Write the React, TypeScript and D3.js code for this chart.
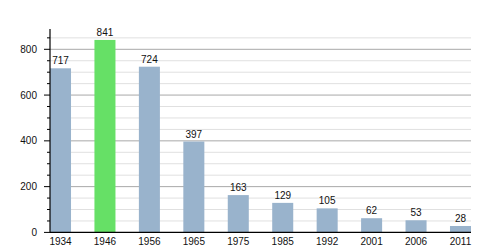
import React from "react";
import * as d3 from "d3";

const years = ["1934", "1946", "1956", "1965", "1975", "1985", "1992", "2001", "2006", "2011"];
const population = [717, 841, 724, 397, 163, 129, 105, 62, 53, 28];
const highlightYear = "1946";
const majorTicks = [0, 200, 400, 600, 800];
const minorTicks = d3.range(50, 900, 50).filter((v) => v % 200 !== 0);

export default function App() {
  const W = 500;
  const H = 250;
  const x = d3.scaleBand<string>().domain(years).range([50, 471]).paddingInner(0.527).paddingOuter(0);
  const y = d3.scaleLinear().domain([0, 800]).range([232.4, 49.3]);
  const font = "'Liberation Sans', Arial, sans-serif";
  return (
    <svg width={W} height={H} style={{ position: "absolute", left: 0, top: 0 }} fontFamily={font}>
      <rect width={W} height={H} fill="#fff" />
      {minorTicks.map((v) => (
        <line key={"mg" + v} x1={50} x2={471} y1={y(v)} y2={y(v)} stroke="#e0e0e0" strokeWidth={1} />
      ))}
      {majorTicks.filter((v) => v > 0).map((v) => (
        <line key={"Mg" + v} x1={50} x2={471} y1={y(v)} y2={y(v)} stroke="#a8a8a8" strokeWidth={1} />
      ))}
      {years.map((yr, i) => (
        <rect
          key={yr}
          x={x(yr)}
          y={y(population[i])}
          width={x.bandwidth()}
          height={y(0) - y(population[i])}
          fill={yr === highlightYear ? "#66e066" : "#99b3cc"}
        />
      ))}
      {years.map((yr, i) => (
        <text key={"l" + yr} x={(x(yr) as number) + x.bandwidth() / 2} y={y(population[i]) - 4} fontSize={10} textAnchor="middle" fill="#111">
          {population[i]}
        </text>
      ))}
      {/* y axis */}
      <line x1={50} x2={50} y1={y(0)} y2={29} stroke="#000" strokeWidth={1.2} />
      {minorTicks.map((v) => (
        <line key={"mt" + v} x1={47} x2={50} y1={y(v)} y2={y(v)} stroke="#000" strokeWidth={1} />
      ))}
      {majorTicks.map((v) => (
        <g key={"Mt" + v}>
          <line x1={44} x2={50} y1={y(v)} y2={y(v)} stroke="#000" strokeWidth={1} />
          <text x={37} y={y(v) + 3.5} fontSize={10} textAnchor="end" fill="#111">
            {v}
          </text>
        </g>
      ))}
      {/* x axis */}
      <line x1={50} x2={471} y1={y(0)} y2={y(0)} stroke="#000" strokeWidth={1.2} />
      {years.map((yr) => (
        <text key={"x" + yr} x={(x(yr) as number) + x.bandwidth() / 2} y={244.5} fontSize={10} textAnchor="middle" fill="#111">
          {yr}
        </text>
      ))}
    </svg>
  );
}
